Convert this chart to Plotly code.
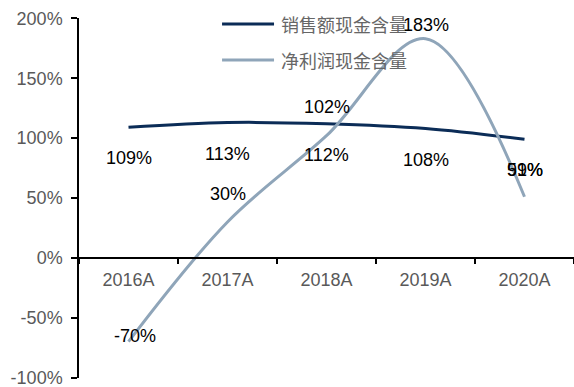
import plotly.graph_objects as go

categories = ["2016A", "2017A", "2018A", "2019A", "2020A"]
sales_cash = [109, 113, 112, 108, 99]
profit_cash = [-70, 30, 102, 183, 51]
series_names = ["销售额现金含量", "净利润现金含量"]
y_ticks = [-100, -50, 0, 50, 100, 150, 200]

NAVY = "#0b2c57"
GRAYBLUE = "#8fa5b9"
TICK_GRAY = "#595959"
LABEL_FONT = dict(family="Liberation Sans, Arial, sans-serif", size=18, color="#000000")

fig = go.Figure()
fig.add_trace(go.Scatter(x=categories, y=sales_cash, mode="lines", name=series_names[0],
                         line=dict(color=NAVY, width=3, shape="spline"), showlegend=False))
fig.add_trace(go.Scatter(x=categories, y=profit_cash, mode="lines", name=series_names[1],
                         line=dict(color=GRAYBLUE, width=3, shape="spline"), showlegend=False))

# data labels
s1_shift = [-31, -31, -31, -31, -31]
s2_shift = [(6, 6), (0, 28), (0, 29), (0, 14), (0, 27)]
for c, v, ys in zip(categories, sales_cash, s1_shift):
    fig.add_annotation(x=c, y=v, text=f"{v}%", showarrow=False, yshift=ys, font=LABEL_FONT)
for c, v, (xs, ys) in zip(categories, profit_cash, s2_shift):
    fig.add_annotation(x=c, y=v, text=f"{v}%", showarrow=False, xshift=xs, yshift=ys, font=LABEL_FONT)

# legend (manual)
leg_y = [0.983, 0.883]
for name, col, ly in zip(series_names, [NAVY, GRAYBLUE], leg_y):
    fig.add_shape(type="line", xref="paper", yref="paper", x0=0.289, x1=0.394, y0=ly, y1=ly,
                  line=dict(color=col, width=3))
    fig.add_annotation(xref="paper", yref="paper", x=0.404, y=ly, text=name, showarrow=False,
                       xanchor="left", yanchor="middle",
                       font=dict(family="Noto Sans CJK SC", size=18, color="#666666"))

fig.update_layout(
    width=574, height=387,
    margin=dict(l=79, r=0, t=18, b=9),
    plot_bgcolor="white", paper_bgcolor="white",
    showlegend=False,
    xaxis=dict(type="category", range=[-0.5, 4.5], anchor="free", position=1/3,
               showline=True, linecolor="black", linewidth=1.5,
               ticks="outside", ticklen=5, tickcolor="black", tickwidth=1.5,
               tickson="boundaries", showgrid=False, zeroline=False,
               ticklabelstandoff=6,
               tickfont=dict(family="Liberation Sans, Arial, sans-serif", size=18, color=TICK_GRAY)),
    yaxis=dict(range=[-100.3, 200.3], tickvals=y_ticks, ticktext=[f"{t}%" for t in y_ticks],
               showline=True, linecolor="black", linewidth=1.5,
               ticks="outside", ticklen=6, tickcolor="black", tickwidth=1.5,
               showgrid=False, zeroline=False, ticklabelstandoff=5,
               ticklabeloverflow="allow",
               tickfont=dict(family="Liberation Sans, Arial, sans-serif", size=18, color=TICK_GRAY)),
)

fig.write_html("out.html")
